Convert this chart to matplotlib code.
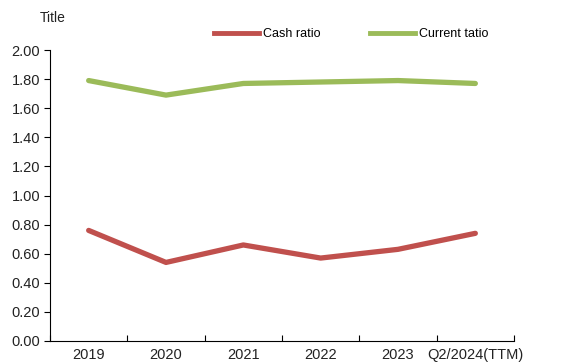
import numpy as np
import matplotlib.pyplot as plt
from matplotlib.lines import Line2D

# Data
categories = ["2019", "2020", "2021", "2022", "2023", "Q2/2024(TTM)"]
cash_ratio = [0.76, 0.54, 0.66, 0.57, 0.63, 0.74]
current_ratio = [1.79, 1.69, 1.77, 1.78, 1.79, 1.77]

red = "#C0504D"
green = "#9BBB59"

plt.rcParams['font.family'] = ['Liberation Sans', 'DejaVu Sans']

fig = plt.figure(figsize=(5.74, 3.63), dpi=100)
ax = fig.add_axes([50 / 574, 22 / 363, 464 / 574, 291 / 363])

x = np.arange(len(categories))
ax.plot(x, cash_ratio, color=red, lw=3.8, solid_capstyle='round', solid_joinstyle='round')
ax.plot(x, current_ratio, color=green, lw=3.8, solid_capstyle='round', solid_joinstyle='round')

ax.set_xlim(-0.5, len(categories) - 0.5)
ax.set_ylim(0, 2.0)
ax.set_yticks(np.arange(0, 2.01, 0.2))
ax.set_yticklabels([f"{v:.2f}" for v in np.arange(0, 2.01, 0.2)], fontsize=10.5, color="#222222")

# category labels in the centre, tick marks on the boundaries
ax.set_xticks(x)
ax.set_xticklabels(categories, fontsize=10.5, color="#222222")
ax.tick_params(axis='x', which='major', length=0, pad=5)
ax.set_xticks(np.arange(-0.5, len(categories)), minor=True)
ax.tick_params(axis='x', which='minor', direction='in', length=4, width=0.8)
ax.tick_params(axis='y', direction='out', length=4, width=0.8, pad=3)

for s in ['top', 'right']:
    ax.spines[s].set_visible(False)
for s in ['left', 'bottom']:
    ax.spines[s].set_linewidth(0.8)

fig.text(40 / 574, 1 - 18 / 363, "Title", fontsize=10, va='center', ha='left', color="#222222")

handles = [Line2D([], [], color=red, lw=3.5), Line2D([], [], color=green, lw=3.5)]
fig.legend(handles, ["Cash ratio", "Current tatio"], loc='center', bbox_to_anchor=(351 / 574, 1 - 34 / 363),
           ncol=2, frameon=False, fontsize=9, handlelength=3.6, handletextpad=0.3, columnspacing=4.0)

fig.savefig("out.png", dpi=100)
